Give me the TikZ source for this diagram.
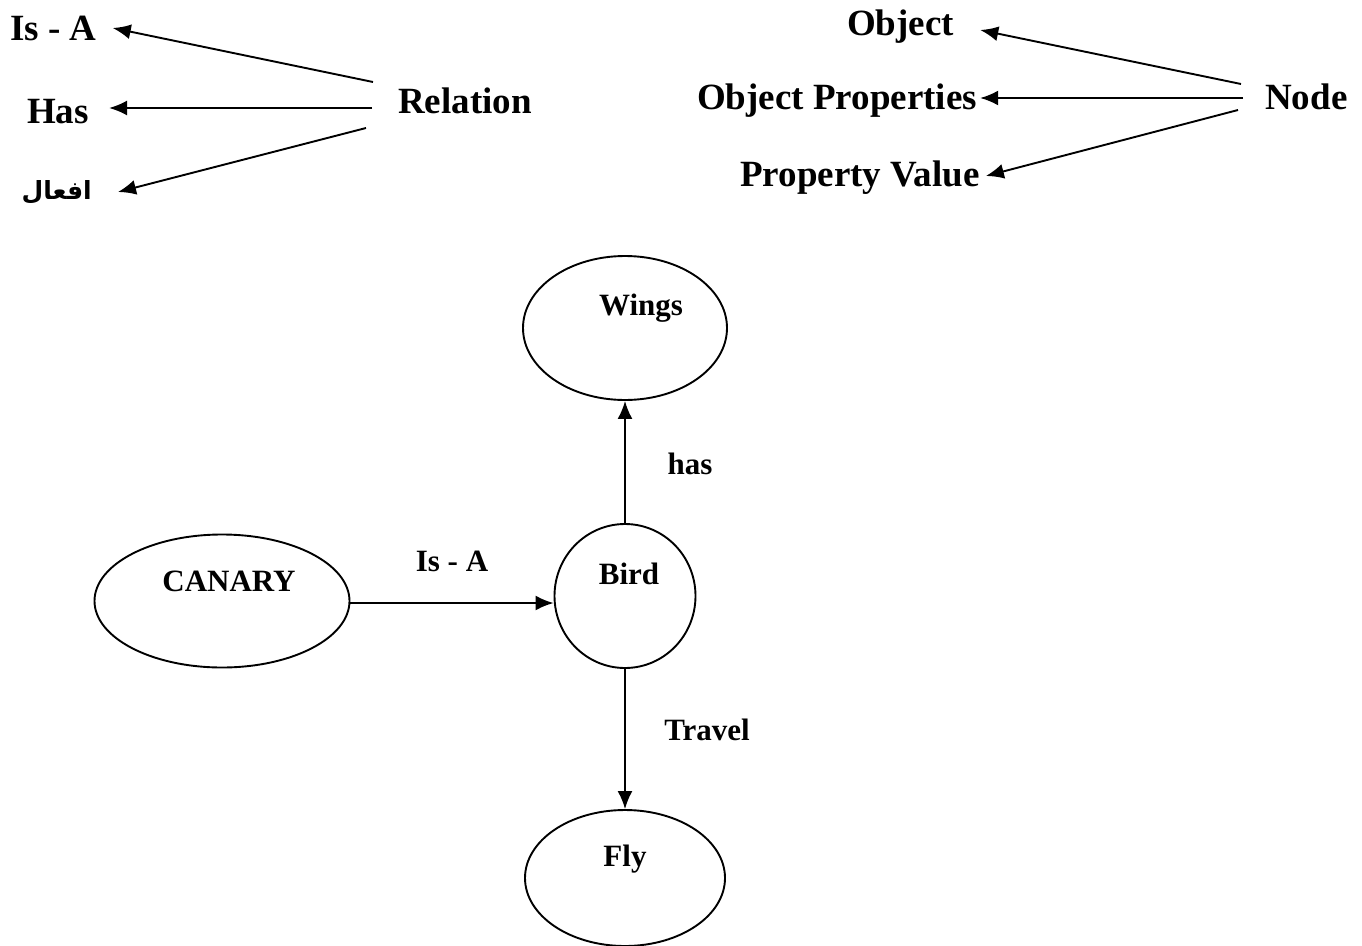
\documentclass[tikz,border=0pt]{standalone}
\usepackage{fontspec}
\setmainfont{Liberation Serif}
\newfontfamily\arabicfont[Script=Arabic]{DejaVu Sans}
\TeXXeTstate=1
\usetikzlibrary{arrows.meta,shapes.geometric}
\begin{document}
\begin{tikzpicture}[x=1pt,y=-1pt,
  big/.style={font=\fontsize{37}{40}\selectfont\bfseries, inner sep=0pt},
  small/.style={font=\fontsize{31}{34}\selectfont\bfseries, inner sep=0pt},
  arr/.style={line width=1.9pt, -{Latex[length=18pt,width=15pt]}},
  oval/.style={draw, line width=1.9pt, ellipse, inner sep=0pt}]
\useasboundingbox (0,0) rectangle (1362,945);
% top left legend
\node[big, anchor=west] (isa) at (10,28) {Is - A};
\node[big, anchor=west] (has) at (27,112) {Has};
\node[anchor=east, inner sep=0pt] (afal) at (92,192) {\arabicfont\bfseries\fontsize{25}{30}\selectfont\beginR افعال\endR};
\node[big, anchor=west] (rel) at (398,101) {Relation};
\coordinate (r1) at (373,82);
\coordinate (r2) at (372,108);
\coordinate (r3) at (366,128);
\draw[arr] (r1) -- ([xshift=16pt]isa.east);
\draw[arr] (r2) -- ([xshift=20pt,yshift=4pt]has.east);
\draw[arr] (r3) -- ([xshift=26pt]afal.east);
% top right legend
\node[big, anchor=west] (obj) at (847,27) {Object};
\node[big, anchor=west] (objp) at (697,101) {Object Properties};
\node[big, anchor=west] (pval) at (740,178) {Property Value};
\node[big, anchor=west] (node) at (1265,97) {Node};
\coordinate (n1) at (1241,84);
\coordinate (n2) at (1243,98);
\coordinate (n3) at (1238,110);
\draw[arr] (n1) -- ([xshift=26pt,yshift=-3pt]obj.east);
\draw[arr] (n2) -- ([xshift=3pt,yshift=3pt]objp.east);
\draw[arr] (n3) -- ([xshift=6pt,yshift=2pt]pval.east);
% semantic net
\node[oval, minimum width=204pt, minimum height=144pt] (wings) at (625,328) {};
\node[small] at (641,308) {Wings};
\node[oval, minimum width=141pt, minimum height=144pt] (bird) at (625,596) {};
\node[small] at (629,574) {Bird};
\node[oval, minimum width=255pt, minimum height=133pt] (canary) at (222,601) {};
\node[small] at (229,581) {CANARY};
\node[oval, minimum width=200pt, minimum height=136pt] (fly) at (625,878) {};
\node[small] at (625,859) {Fly};
\draw[arr] (bird.north) -- (wings.south);
\draw[arr] (canary.east |- 0,603) -- (bird.west |- 0,603);
\draw[arr] (bird.south) -- (fly.north);
\node[small] at (690,464) {has};
\node[small] at (452,561) {Is - A};
\node[small] at (707,730) {Travel};
\end{tikzpicture}
\end{document}
